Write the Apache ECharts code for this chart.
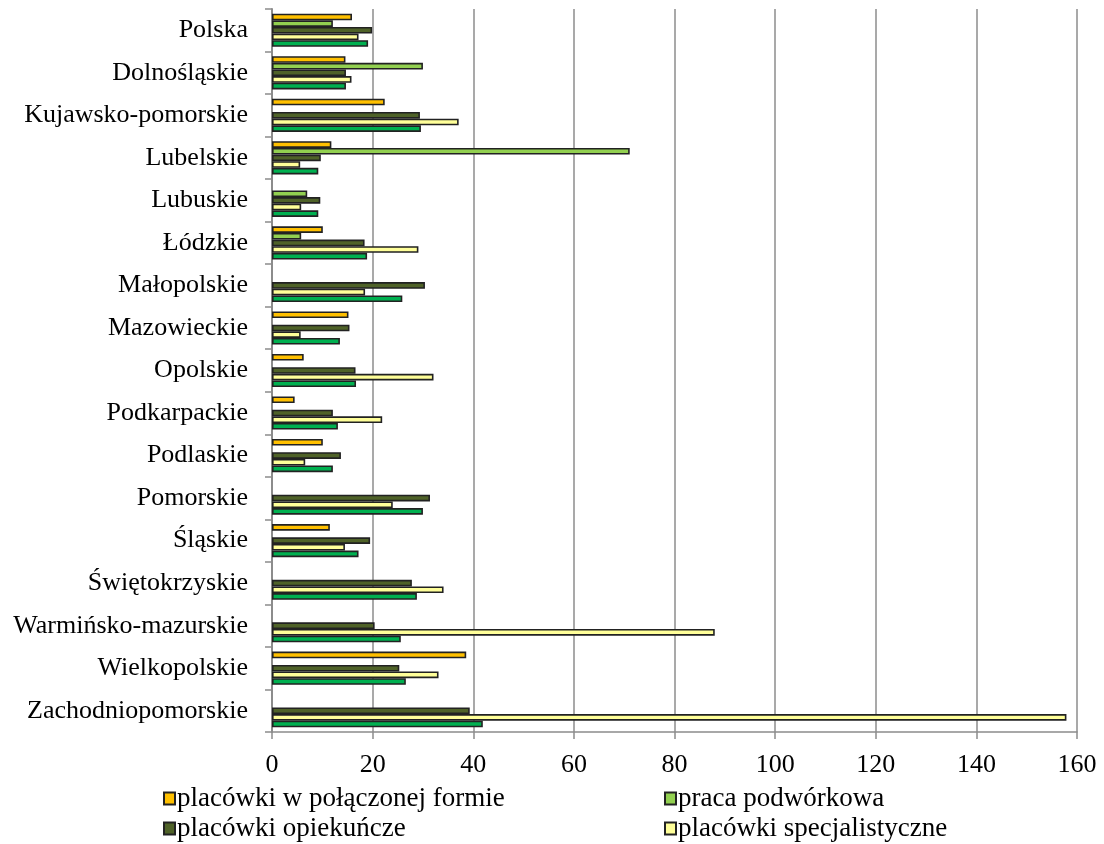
<!DOCTYPE html>
<html>
<head>
<meta charset="utf-8">
<script src="https://cdn.jsdelivr.net/npm/echarts@6/dist/echarts.min.js"></script>
<style>html,body{margin:0;padding:0;background:#fff;}#c{width:1104px;height:844px;}</style>
</head>
<body>
<div id="c"></div>
<script>
const categories = ['Polska','Dolnośląskie','Kujawsko-pomorskie','Lubelskie','Lubuskie','Łódzkie','Małopolskie','Mazowieckie','Opolskie','Podkarpackie','Podlaskie','Pomorskie','Śląskie','Świętokrzyskie','Warmińsko-mazurskie','Wielkopolskie','Zachodniopomorskie'];
const seriesNames = ['placówki w połączonej formie','praca podwórkowa','placówki opiekuńcze','placówki specjalistyczne','placówki ogółem'];
const polaczone =      [15.9, 14.6, 22.4, 11.8, null, 10.1, null, 15.2, 6.3, 4.5, 10.1, null, 11.5, null, null, 38.6, null];
const podworkowa =     [12.1, 30.0, null, 71.1, 7.0, 5.8, null, null, null, null, null, null, null, null, null, null, null];
const opiekuncze =     [19.9, 14.7, 29.4, 9.7, 9.6, 18.4, 30.4, 15.4, 16.6, 12.1, 13.7, 31.4, 19.5, 27.8, 20.4, 25.3, 39.3];
const specjalistyczne =[17.2, 15.8, 37.1, 5.6, 5.8, 29.1, 18.5, 5.7, 32.1, 21.9, 6.6, 24.0, 14.5, 34.1, 88.0, 33.1, 157.9];
const ogolem =         [19.1, 14.7, 29.6, 9.2, 9.2, 18.9, 25.9, 13.5, 16.7, 13.1, 12.1, 30.0, 17.2, 28.8, 25.6, 26.6, 41.9];
const xTicks = [0, 20, 40, 60, 80, 100, 120, 140, 160];
const colors = ['#FFC000', '#92D050', '#4F6228', '#FFFF99', '#00B050'];

const dataSets = [polaczone, podworkowa, opiekuncze, specjalistyczne, ogolem];
const font = 'Liberation Serif';
const chart = echarts.init(document.getElementById('c'));
const series = dataSets.map((d, i) => ({
  name: seriesNames[i],
  type: 'bar',
  data: d,
  barGap: '0%',
  barCategoryGap: '22%',
  itemStyle: { color: colors[i], borderColor: '#222', borderWidth: 1.6 },
  silent: true
}));
const legendPos = [[158, 780], [659, 780], [158, 810], [659, 810]];
const legends = [0, 1, 2, 3].map(i => ({
  data: [seriesNames[i]],
  left: legendPos[i][0], top: legendPos[i][1],
  icon: 'rect', itemWidth: 11, itemHeight: 12, itemGap: 4,
  textStyle: { fontFamily: font, fontSize: 27, color: '#000', padding: [0, 0, 0, -3] },
  selectedMode: false
}));
chart.setOption({
  animation: false,
  backgroundColor: '#fff',
  textStyle: { fontFamily: font },
  grid: { left: 272, right: 27, top: 9, bottom: 112, containLabel: false },
  legend: legends,
  xAxis: {
    type: 'value', min: xTicks[0], max: xTicks[xTicks.length - 1], interval: 20,
    axisLine: { show: true, lineStyle: { color: '#8c8c8c', width: 1.5 } },
    axisTick: { show: true, length: 7, lineStyle: { color: '#8c8c8c', width: 1.5 } },
    splitLine: { show: true, lineStyle: { color: '#8c8c8c', width: 1.5 } },
    axisLabel: { fontFamily: font, fontSize: 26, color: '#000', margin: 20 }
  },
  yAxis: {
    type: 'category', data: categories, inverse: true,
    axisLine: { show: true, lineStyle: { color: '#8c8c8c', width: 2 } },
    axisTick: { show: true, length: 7, lineStyle: { color: '#8c8c8c', width: 1.5 } },
    axisLabel: { fontFamily: font, fontSize: 26, color: '#000', margin: 24 }
  },
  series: series
});
</script>
</body>
</html>
